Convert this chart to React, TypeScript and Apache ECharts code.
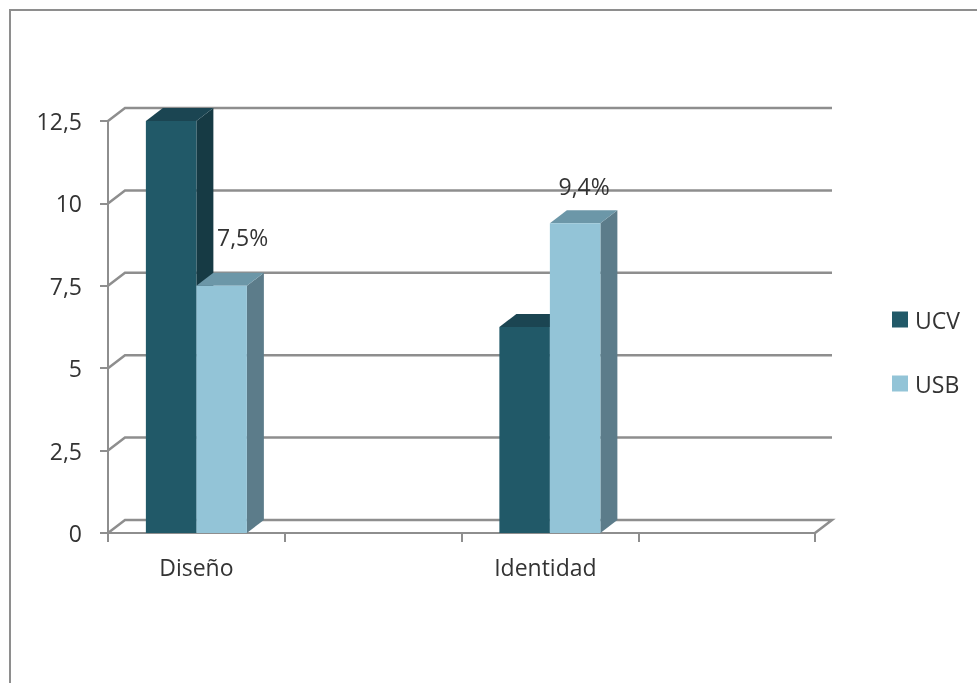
import React, { useEffect, useRef } from "react";
import * as echarts from "echarts";

const categories = ["Diseño", "", "Identidad", ""];
const seriesNames = ["UCV", "USB"];
const ucvValues = [12.5, null, 6.25, null];
const usbValues = [7.5, null, 9.4, null];
const usbLabels = ["7,5%", "", "9,4%", ""];
const yTicks = [0, 2.5, 5, 7.5, 10, 12.5];

const DEPTH_X = 17;
const DEPTH_Y = 13;
const BAR_W = 50.5;
const GRID_COLOR = "#8e8e8e";
const TEXT_COLOR = "#333333";
const FONT = "'Open Sans', sans-serif";
const FONT_SIZE = 23;
const labelOffsets: Record<number, [number, number]> = { 0: [21, -49], 2: [9, -37] };

function bar3d(side: -1 | 0, front: string, top: string, right: string, labels?: string[]) {
  return (params: any, api: any) => {
    const cat = api.value(0);
    const val = api.value(1);
    if (val === null || val === undefined || isNaN(val)) return { type: "group", children: [] };
    const topPt = api.coord([cat, val]);
    const basePt = api.coord([cat, 0]);
    const x0 = topPt[0] + side * BAR_W;
    const x1 = x0 + BAR_W;
    const yt = topPt[1];
    const yb = basePt[1];
    const children: any[] = [
      {
        type: "polygon",
        shape: { points: [[x1, yb], [x1 + DEPTH_X, yb - DEPTH_Y], [x1 + DEPTH_X, yt - DEPTH_Y], [x1, yt]] },
        style: { fill: right },
      },
      {
        type: "polygon",
        shape: { points: [[x0, yt], [x0 + DEPTH_X, yt - DEPTH_Y], [x1 + DEPTH_X, yt - DEPTH_Y], [x1, yt]] },
        style: { fill: top },
      },
      { type: "rect", shape: { x: x0, y: yt, width: BAR_W, height: yb - yt }, style: { fill: front } },
    ];
    if (labels && labels[cat]) {
      const off = labelOffsets[cat] || [0, 0];
      children.push({
        type: "text",
        x: (x0 + x1) / 2 + off[0],
        y: yt + off[1],
        style: { text: labels[cat], fill: TEXT_COLOR, font: `${FONT_SIZE}px ${FONT}`, align: "center", verticalAlign: "middle" },
      });
    }
    return { type: "group", children };
  };
}

export default function App() {
  const ref = useRef<HTMLDivElement>(null);
  useEffect(() => {
    const chart = echarts.init(ref.current!, undefined, { renderer: "svg" });
    chart.setOption({
      animation: false,
      backgroundColor: "#ffffff",
      grid: { left: 108, top: 121, width: 707, height: 412 },
      xAxis: {
        type: "category",
        data: categories,
        axisLine: { lineStyle: { color: GRID_COLOR, width: 2 } },
        axisTick: { show: true, length: 9, alignWithLabel: false, interval: 0, lineStyle: { color: GRID_COLOR, width: 2 } },
        axisLabel: {
          interval: 0,
          margin: 22,
          color: TEXT_COLOR,
          fontFamily: FONT,
          fontSize: FONT_SIZE,
          formatter: (v: string) => (v === "Identidad" ? `{shift|${v}}` : v),
          rich: { shift: { padding: [0, 9, 0, 0], color: TEXT_COLOR, fontFamily: FONT, fontSize: FONT_SIZE } },
        },
      },
      yAxis: {
        type: "value",
        min: 0,
        max: 12.5,
        interval: 2.5,
        axisLine: { show: true, lineStyle: { color: GRID_COLOR, width: 2 } },
        axisTick: { show: true, length: 8, lineStyle: { color: GRID_COLOR, width: 2 } },
        splitLine: { show: false },
        axisLabel: {
          margin: 26,
          color: TEXT_COLOR,
          fontFamily: FONT,
          fontSize: FONT_SIZE,
          formatter: (v: number) => String(v).replace(".", ","),
        },
      },
      legend: {
        data: seriesNames,
        orient: "vertical",
        left: 892,
        top: 308,
        padding: 0,
        icon: "rect",
        itemWidth: 16,
        itemHeight: 16,
        itemGap: 41,
        textStyle: { color: TEXT_COLOR, fontFamily: FONT, fontSize: FONT_SIZE, padding: [0, 0, 0, 2] },
      },
      graphic: [
        {
          type: "polyline",
          shape: { points: [[10, 683], [10, 10], [977, 10]] },
          style: { stroke: GRID_COLOR, lineWidth: 2, fill: "none" },
        },
      ],
      series: [
        {
          type: "custom",
          silent: true,
          z: 1,
          clip: false,
          data: yTicks.map((v) => [0, v]),
          renderItem: (params: any, api: any) => {
            const cs = params.coordSys;
            const y = api.coord([0, api.value(1)])[1];
            const xl = cs.x;
            const xr = cs.x + cs.width;
            const pts = [[xl, y], [xl + DEPTH_X, y - DEPTH_Y], [xr + DEPTH_X, y - DEPTH_Y]];
            if (api.value(1) === 0) pts.push([xr, y]);
            return {
              type: "polyline",
              shape: { points: pts },
              style: { stroke: GRID_COLOR, lineWidth: 2.5, fill: "none" },
            };
          },
        },
        {
          name: "UCV",
          type: "custom",
          z: 2,
          clip: false,
          itemStyle: { color: "#215968" },
          data: ucvValues.map((v, i) => [i, v]),
          renderItem: bar3d(-1, "#215968", "#1b4552", "#163a44"),
        },
        {
          name: "USB",
          type: "custom",
          z: 3,
          clip: false,
          itemStyle: { color: "#93c4d7" },
          data: usbValues.map((v, i) => [i, v]),
          renderItem: bar3d(0, "#93c4d7", "#6c97a8", "#5c7c8a", usbLabels),
        },
      ],
    });
    return () => chart.dispose();
  }, []);
  return <div ref={ref} style={{ position: "absolute", left: 0, top: 0, width: 977, height: 683, filter: "blur(0.45px)" }} />;
}
